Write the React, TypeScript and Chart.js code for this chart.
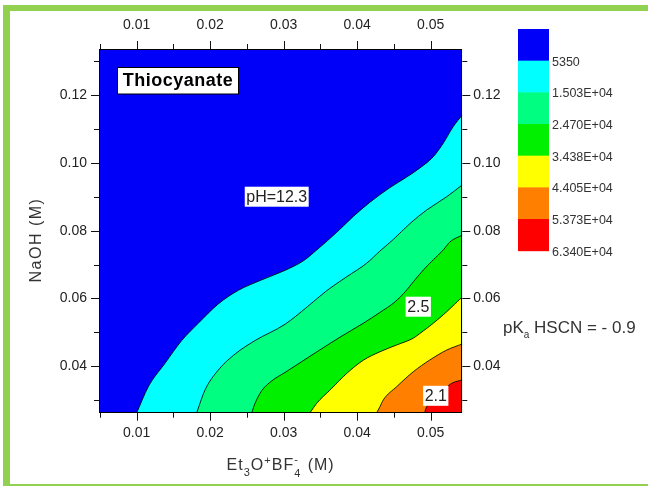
import React, { useEffect, useRef } from 'react';
import { Chart, registerables } from 'chart.js';

Chart.register(...registerables);

// ---- axes ----
const xLimits = [0.00487, 0.0543];
const yLimits = [0.02633, 0.13356];
const xTickValues = [0.01, 0.02, 0.03, 0.04, 0.05];
const xMinorTickValues = [0.005, 0.015, 0.025, 0.035, 0.045];
const yTickValues = [0.04, 0.06, 0.08, 0.1, 0.12];
const yMinorTickValues = [0.03, 0.05, 0.07, 0.09, 0.11, 0.13];

// ---- contour boundaries (x: Et3O+BF4- M, y: NaOH M) ----
// blue / cyan
const b1X = [0.0100, 0.01158, 0.01385, 0.01612, 0.01838, 0.02110, 0.02382, 0.02701, 0.03018, 0.03267, 0.03449, 0.03721, 0.03947, 0.04174, 0.04446, 0.04673, 0.04854, 0.05035, 0.05171, 0.05307, 0.0543];
const b1Y = [0.0263, 0.0340, 0.0409, 0.0476, 0.0527, 0.0584, 0.0624, 0.0655, 0.0683, 0.0711, 0.0743, 0.0795, 0.0842, 0.0884, 0.0927, 0.0958, 0.0985, 0.1018, 0.1058, 0.1107, 0.1141];
// cyan / light green
const b2X = [0.01816, 0.01929, 0.02110, 0.02337, 0.02610, 0.03018, 0.03313, 0.03585, 0.03857, 0.04129, 0.04310, 0.04491, 0.04718, 0.04946, 0.05218, 0.0543];
const b2Y = [0.0263, 0.0330, 0.0389, 0.0436, 0.0476, 0.0524, 0.0574, 0.0623, 0.0664, 0.0704, 0.0740, 0.0774, 0.0821, 0.0861, 0.0900, 0.0935];
// light green / green
const b3X = [0.02565, 0.02610, 0.02701, 0.02837, 0.03018, 0.03403, 0.03766, 0.04083, 0.0431, 0.04514, 0.0465, 0.04763, 0.049, 0.05035, 0.05171, 0.05263, 0.0543];
const b3Y = [0.0263, 0.0291, 0.0328, 0.0357, 0.0382, 0.0436, 0.0486, 0.0527, 0.0559, 0.0590, 0.0619, 0.0649, 0.0684, 0.0714, 0.0743, 0.0767, 0.0787];
// green / yellow
const b4X = [0.03358, 0.03449, 0.0363, 0.03857, 0.04083, 0.0431, 0.04537, 0.04763, 0.04854, 0.05035, 0.05218, 0.0543];
const b4Y = [0.0263, 0.0291, 0.0330, 0.0379, 0.0418, 0.0443, 0.0463, 0.0483, 0.0497, 0.0527, 0.0561, 0.0605];
// yellow / orange
const b5X = [0.04265, 0.0431, 0.04355, 0.04537, 0.04763, 0.0499, 0.05218, 0.0543];
const b5Y = [0.0263, 0.0281, 0.0301, 0.0340, 0.0384, 0.0419, 0.0448, 0.0466];
// orange / red
const b6X = [0.04916, 0.04946, 0.05045, 0.05171, 0.05286, 0.0543];
const b6Y = [0.0263, 0.0281, 0.0307, 0.0330, 0.0350, 0.0360];

// ---- levels / legend ----
const levelColors = ['#0000F8', '#00FFFF', '#00FF80', '#00F000', '#FFFF00', '#FF8000', '#FF0000'];
const levelLabels = ['5350', '1.503E+04', '2.470E+04', '3.438E+04', '4.405E+04', '5.373E+04', '6.340E+04'];

// ---- contour labels ----
const contourLabels = ['pH=12.3', '2.5', '2.1'];
const contourLabelX = [0.02905, 0.04831, 0.05069];
const contourLabelY = [0.09001, 0.05758, 0.03131];

const FONT = '"Liberation Sans", Arial, sans-serif';

const pts = (xs: number[], ys: number[]) => xs.map((x, i) => ({ x, y: ys[i] }));

function drawParts(ctx: any, parts: any[], startX: number, baseline: number, measureOnly = false) {
  let x = startX;
  for (const p of parts) {
    if (p.stack) {
      let w = 0;
      for (const s of p.stack) {
        ctx.font = `${s.size}px ${FONT}`;
        w = Math.max(w, ctx.measureText(s.t).width);
        if (!measureOnly) ctx.fillText(s.t, x, baseline + s.dy);
      }
      x += w + 1;
    } else {
      ctx.font = `${p.size}px ${FONT}`;
      if (!measureOnly) ctx.fillText(p.t, x, baseline + (p.dy || 0));
      x += ctx.measureText(p.t).width;
    }
  }
  return x - startX;
}

const decor = {
  id: 'decor',
  beforeDraw(chart: any) {
    const ctx = chart.ctx;
    ctx.save();
    ctx.fillStyle = '#ffffff';
    ctx.fillRect(0, 0, chart.width, chart.height);
    ctx.restore();
  },
  afterDraw(chart: any) {
    const { ctx, chartArea: a, scales } = chart;
    const sx = scales.x, sy = scales.y;
    ctx.save();
    // outer green frame
    ctx.fillStyle = '#92D050';
    ctx.fillRect(3, 5, 645, 6);
    ctx.fillRect(3, 5, 7, 481);
    ctx.fillRect(3, 484, 645, 2);

    // plot frame
    ctx.strokeStyle = '#000';
    ctx.lineWidth = 1;
    ctx.strokeRect(Math.round(a.left) + 0.5, Math.round(a.top) + 0.5, Math.round(a.right) - Math.round(a.left) - 1, Math.round(a.bottom) - Math.round(a.top) - 1);

    // ticks
    ctx.strokeStyle = '#111';
    ctx.beginPath();
    const xt = (v: number, len: number) => {
      const px = Math.round(sx.getPixelForValue(v)) + 0.5;
      ctx.moveTo(px, a.bottom); ctx.lineTo(px, a.bottom + len);
      ctx.moveTo(px, a.top); ctx.lineTo(px, a.top - len);
    };
    const yt = (v: number, len: number) => {
      const py = Math.round(sy.getPixelForValue(v)) + 0.5;
      ctx.moveTo(a.left, py); ctx.lineTo(a.left - len, py);
      ctx.moveTo(a.right, py); ctx.lineTo(a.right + len, py);
    };
    xTickValues.forEach(v => xt(v, 8));
    xMinorTickValues.forEach(v => xt(v, 5));
    yTickValues.forEach(v => yt(v, 8));
    yMinorTickValues.forEach(v => yt(v, 5));
    ctx.stroke();

    // contour labels
    ctx.textBaseline = 'middle';
    ctx.textAlign = 'center';
    ctx.font = `16px ${FONT}`;
    contourLabels.forEach((t, i) => {
      const cx = sx.getPixelForValue(contourLabelX[i]);
      const cy = sy.getPixelForValue(contourLabelY[i]);
      const w = ctx.measureText(t).width + 3;
      ctx.fillStyle = '#ffffff';
      ctx.fillRect(cx - w / 2, cy - 10, w, 20);
      ctx.fillStyle = '#222';
      ctx.fillText(t, cx, cy + 1);
    });

    // Thiocyanate box
    ctx.fillStyle = '#ffffff';
    ctx.fillRect(117.5, 67.5, 121, 26.5);
    ctx.strokeStyle = '#000';
    ctx.strokeRect(117.5, 67.5, 121, 26.5);
    ctx.fillStyle = '#000';
    ctx.font = `bold 18px ${FONT}`;
    ctx.letterSpacing = '0.5px';
    ctx.fillText('Thiocyanate', 178, 81.5);
    ctx.letterSpacing = '0px';

    // colour bar legend
    const lx = 518, ly = 29, lw = 31, lh = 31.67;
    levelColors.forEach((c, i) => {
      ctx.fillStyle = c;
      ctx.fillRect(lx, ly + i * lh, lw, lh + 0.5);
    });
    ctx.fillStyle = '#333';
    ctx.textAlign = 'left';
    ctx.font = `12.5px ${FONT}`;
    levelLabels.forEach((t, i) => {
      ctx.fillText(t, lx + lw + 3, ly + (i + 1) * lh + 1.5);
    });

    // pKa text
    ctx.textBaseline = 'alphabetic';
    ctx.fillStyle = '#333';
    ctx.letterSpacing = '0px';
    drawParts(ctx, [
      { t: 'pK', size: 17 },
      { t: 'a', size: 10, dy: 5 },
      { t: ' HSCN = - 0.9', size: 17 },
    ], 503, 333);

    // x axis title
    ctx.letterSpacing = '1px';
    const xParts = [
      { t: 'Et', size: 16 },
      { t: '3', size: 11, dy: 6 },
      { t: 'O', size: 16 },
      { t: '+', size: 11, dy: -6 },
      { t: 'BF', size: 16 },
      { stack: [{ t: '-', size: 11, dy: -7 }, { t: '4', size: 11, dy: 7 }] },
      { t: ' (M)', size: 16 },
    ];
    const tw = drawParts(ctx, xParts, 0, 0, true);
    drawParts(ctx, xParts, (a.left + a.right) / 2 - tw / 2, 470);

    // y axis title
    ctx.save();
    ctx.translate(37, 240);
    ctx.rotate(-Math.PI / 2);
    ctx.textAlign = 'center';
    ctx.textBaseline = 'middle';
    ctx.font = `16px ${FONT}`;
    ctx.letterSpacing = '1.5px';
    ctx.fillText('NaOH (M)', 0, 0);
    ctx.restore();
    ctx.letterSpacing = '0px';

    ctx.restore();
  },
};

export default function App() {
  const ref = useRef<HTMLCanvasElement | null>(null);
  useEffect(() => {
    if (!ref.current) return;
    const bandColors = [levelColors[6], levelColors[5], levelColors[4], levelColors[3], levelColors[2], levelColors[1]];
    const bounds = [[b6X, b6Y], [b5X, b5Y], [b4X, b4Y], [b3X, b3Y], [b2X, b2Y], [b1X, b1Y]];
    const datasets: any[] = bounds.map(([xs, ys], i) => ({
      data: pts(xs as number[], ys as number[]),
      backgroundColor: bandColors[i],
      borderColor: 'rgba(0,0,0,0.85)',
      borderWidth: 1,
      fill: 'start',
      pointRadius: 0,
      cubicInterpolationMode: 'monotone',
      xAxisID: 'x',
      yAxisID: 'y',
    }));
    datasets.push({
      data: pts([xLimits[0], xLimits[1]], [yLimits[1], yLimits[1]]),
      backgroundColor: levelColors[0],
      borderWidth: 0,
      fill: 'start',
      pointRadius: 0,
      xAxisID: 'x',
      yAxisID: 'y',
    });

    const tickFont = { family: FONT, size: 14 };
    const common = {
      type: 'linear',
      grid: { display: false, drawTicks: false },
      border: { display: false },
    };
    const chart = new Chart(ref.current, {
      type: 'line',
      data: { datasets },
      options: {
        animation: false,
        responsive: false,
        devicePixelRatio: 1,
        layout: { padding: 0 },
        plugins: { legend: { display: false }, tooltip: { enabled: false } },
        scales: {
          x: {
            ...common, position: 'bottom', min: xLimits[0], max: xLimits[1],
            afterBuildTicks: (s: any) => { s.ticks = xTickValues.map(v => ({ value: v })); },
            afterFit: (s: any) => { s.height = 73.3; },
            ticks: { font: tickFont, color: '#222', padding: 12, maxRotation: 0, autoSkip: false, callback: (v: any) => Number(v).toFixed(2) },
          },
          x2: {
            ...common, position: 'top', min: xLimits[0], max: xLimits[1],
            afterBuildTicks: (s: any) => { s.ticks = xTickValues.map(v => ({ value: v })); },
            afterFit: (s: any) => { s.height = 49; },
            ticks: { font: tickFont, color: '#222', padding: 15, maxRotation: 0, autoSkip: false, callback: (v: any) => Number(v).toFixed(2) },
          },
          y: {
            ...common, position: 'left', min: yLimits[0], max: yLimits[1],
            afterBuildTicks: (s: any) => { s.ticks = yTickValues.map(v => ({ value: v })); },
            afterFit: (s: any) => { s.width = 99; },
            ticks: { font: tickFont, color: '#222', padding: 12, autoSkip: false, callback: (v: any) => Number(v).toFixed(2) },
          },
          y2: {
            ...common, position: 'right', min: yLimits[0], max: yLimits[1],
            afterBuildTicks: (s: any) => { s.ticks = yTickValues.map(v => ({ value: v })); },
            afterFit: (s: any) => { s.width = 648 - 462.3; },
            ticks: { font: tickFont, color: '#222', padding: 11, autoSkip: false, callback: (v: any) => Number(v).toFixed(2) },
          },
        },
      } as any,
      plugins: [decor],
    });
    return () => chart.destroy();
  }, []);

  return (
    <div style={{ position: 'fixed', left: 0, top: 0, width: 648, height: 486, background: '#fff' }}>
      <canvas ref={ref} width={648} height={486} style={{ display: 'block' }} />
    </div>
  );
}
